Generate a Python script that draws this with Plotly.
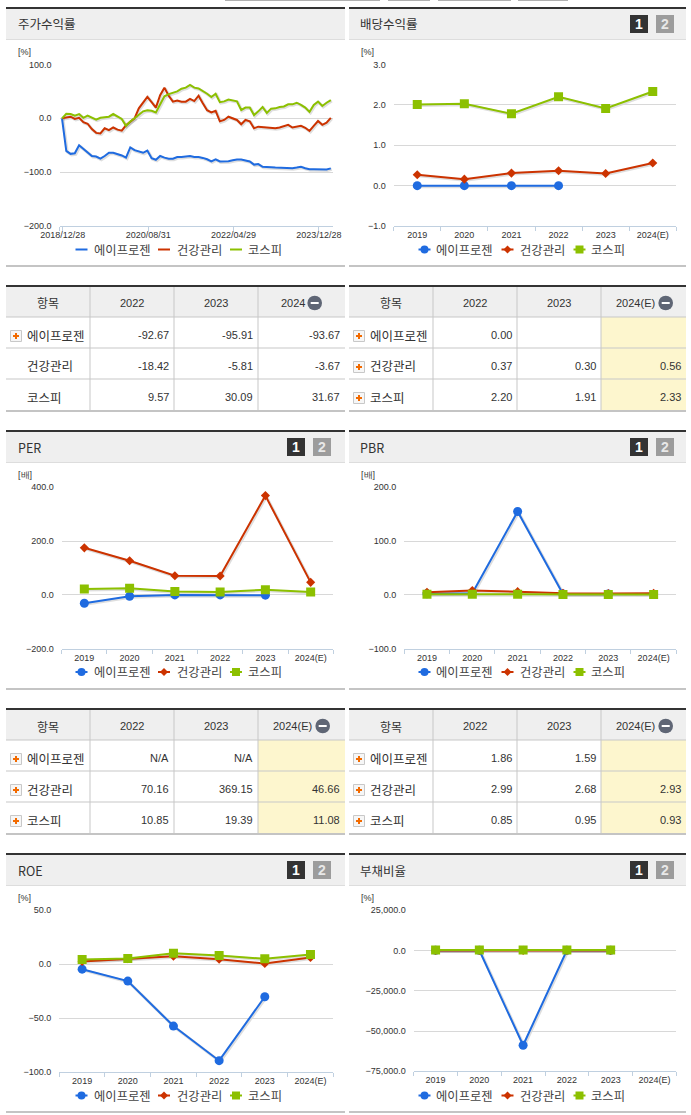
import plotly.graph_objects as go

W = 691
H = 1115

NAMES = ["에이프로젠", "건강관리", "코스피"]
YEARS = ["2019", "2020", "2021", "2022", "2023", "2024(E)"]

# price return, monthly points
ret_blue = [0, -60.5, -66, -65, -50, -57, -64, -70, -71, -75, -70, -64, -64, -66, -69, -73,
            -54, -59, -61, -64, -60, -74, -77, -70, -73, -75, -75, -72, -72, -71, -70, -72,
            -72, -73.5, -76, -80, -76, -80, -80, -79.6, -78, -76.5, -76.5, -78, -80, -86,
            -85, -90, -91, -91, -91.5, -92, -92.5, -92.6, -92.6, -91.5, -90, -92.6, -94.5,
            -94.5, -94.5, -94.5, -95, -93]
ret_red = [0, 1, 3, -1, 1, -7, -10, -20, -27, -28, -18.5, -22, -17, -21, -23, -13,
           -7, 0, 18.5, 29, 40, 30, 20, 43, 57, 42, 31, 33, 31, 31, 36, 32,
           42, 28, 15, 11, 14, -5.5, -3, 3, 0, -3, -11, -3, -5.5, -18.5,
           -15.5, -16, -17.5, -18, -18.5, -17, -14, -12, -17, -16, -14, -17.5, -23.5,
           -14, -5, -12, -8, 1]
ret_green = [0, 8.6, 8, 5, 8, 1, 5, 0.6, -2.5, 1, 2.5, 3, 8, 4, -1, -14,
             -6, 0, 6, 13, 15, 14, 11, 26.5, 41, 45, 47.5, 50, 55, 57, 62, 57,
             55.5, 51, 45.7, 39.5, 45.7, 30, 31.5, 35, 33, 31.5, 15.5, 20, 20, 6,
             13, 21, 10, 18, 18.5, 21, 22, 26, 26, 29, 25, 20, 12, 25, 31, 23, 29, 34]
ret_ticks = ["2018/12/28", "2020/08/31", "2022/04/29", "2023/12/28"]

div_blue = [0, 0, 0, 0, None, None]
div_red = [0.27, 0.16, 0.31, 0.37, 0.30, 0.56]
div_green = [2.01, 2.03, 1.78, 2.20, 1.91, 2.33]

per_blue = [-31, -5, 0, 0, -1, None]
per_red = [175, 127, 71, 70.16, 369.15, 46.66]
per_green = [22, 25, 13, 10.85, 19.39, 11.08]

pbr_blue = [2, 3, 155, 1.86, 1.59, None]
pbr_red = [5, 8, 6, 2.99, 2.68, 2.93]
pbr_green = [1.0, 1.1, 1.2, 0.85, 0.95, 0.93]

roe_blue = [-4.6, -15.7, -57.4, -89.5, -30.2, None]
roe_red = [2.5, 5, 7.4, 4.6, 0.6, 6.2]
roe_green = [4.3, 5.2, 10.2, 8, 5, 9]

debt_blue = [150, 150, -58800, 150, 150, None]
debt_red = [100, 100, 100, 100, 100, None]
debt_green = [400, 400, 400, 400, 400, None]

# table text
tbl_ret = [["-92.67", "-95.91", "-93.67"], ["-18.42", "-5.81", "-3.67"], ["9.57", "30.09", "31.67"]]
tbl_div = [["0.00", "", ""], ["0.37", "0.30", "0.56"], ["2.20", "1.91", "2.33"]]
tbl_per = [["N/A", "N/A", ""], ["70.16", "369.15", "46.66"], ["10.85", "19.39", "11.08"]]
tbl_pbr = [["1.86", "1.59", ""], ["2.99", "2.68", "2.93"], ["0.85", "0.95", "0.93"]]

BLUE = "#1f6be0"
RED = "#cc3300"
GREEN = "#8cc000"
COLORS = [BLUE, RED, GREEN]
KR = "Noto Sans CJK KR"
LAT = "Liberation Sans"
TXT = "#333333"
LINE = "#c8c8c8"

shapes = []
annots = []


def px(x):
    return x / W


def py(y):
    return 1 - y / H


def rect(x0, y0, x1, y1, fill, line=None):
    shapes.append(dict(type="rect", xref="paper", yref="paper", layer="below",
                       x0=px(x0), x1=px(x1), y0=py(y0), y1=py(y1), fillcolor=fill,
                       line=dict(color=line or fill, width=1 if line else 0)))


def text(x, y, s, size=12, font=KR, color=TXT, anchor="left"):
    annots.append(dict(xref="paper", yref="paper", x=px(x), y=py(y), text=s, showarrow=False,
                       xanchor=anchor, yanchor="middle", borderpad=0,
                       font=dict(family=font, size=size, color=color)))


def panel(x0, x1, y, title, buttons=True, btn_x=None):
    # dark top rule, gray title strip, bottom rule of the chart box
    rect(x0, y - 1, x1, y + 1, "#333333")
    rect(x0, y + 1, x1, y + 31, "#efefef")
    rect(x0, y + 31, x1, y + 32, "#dddddd")
    rect(x0, y + 257, x1, y + 259, "#c4c4c4")
    text(x0 + 10.5, y + 16, title, size=12.5)
    if buttons:
        rect(btn_x, y + 7, btn_x + 18, y + 25, "#333333")
        rect(btn_x + 26, y + 7, btn_x + 44, y + 25, "#9c9c9c")
        text(btn_x + 9, y + 16, "<b>1</b>", size=14, font=LAT, color="#ffffff", anchor="center")
        text(btn_x + 35, y + 16, "<b>2</b>", size=14, font=LAT, color="#e8e8e8", anchor="center")


def plus_icon(x, y):
    rect(x, y - 5.5, x + 11, y + 5.5, "#f6f6f6", "#c8c8c8")
    rect(x + 2.5, y - 1, x + 8.5, y + 1, "#f26a00")
    rect(x + 4.5, y - 3, x + 6.5, y + 3, "#f26a00")


def table(x0, x1, y, last_head, rows, icons, shade, head_x, minus_x):
    cols = [x0, x0 + 84, x0 + 168, x0 + 252, x1]
    row_y = [y + 32, y + 63, y + 94, y + 125]
    rect(x0, y, x1, y + 2, "#333333")
    rect(x0, y + 2, x1, row_y[0], "#efefef")
    if shade:
        rect(cols[3], row_y[0], x1, row_y[3], "#fdf6ce")
    for ry in row_y[:3]:
        rect(x0, ry - 0.5, x1, ry + 0.5, LINE)
    rect(x0, row_y[3], x1, row_y[3] + 2, "#c4c4c4")
    for cx in cols[1:4]:
        rect(cx - 0.5, y + 2, cx + 0.5, row_y[3], LINE)
    text((cols[0] + cols[1]) / 2, y + 18, "항목", size=12, anchor="center")
    text((cols[1] + cols[2]) / 2, y + 18, "2022", size=11, font=LAT, anchor="center")
    text((cols[2] + cols[3]) / 2, y + 18, "2023", size=11, font=LAT, anchor="center")
    text(head_x, y + 18, last_head, size=11, font=LAT, anchor="center")
    # minus circle in the last header cell
    shapes.append(dict(type="circle", xref="paper", yref="paper", x0=px(minus_x - 7.3), x1=px(minus_x + 7.3),
                       y0=py(y + 18 + 7.3), y1=py(y + 18 - 7.3), fillcolor="#5f6675", line=dict(width=0)))
    shapes.append(dict(type="rect", xref="paper", yref="paper", x0=px(minus_x - 4), x1=px(minus_x + 4),
                       y0=py(y + 19), y1=py(y + 17), fillcolor="#ffffff", line=dict(width=0)))
    for i, name in enumerate(NAMES):
        cy = y + 50 + 31 * i
        if icons[i]:
            plus_icon(x0 + 4.5, cy + 1)
        text(x0 + 20, cy, name, size=12.5)
        for j in range(3):
            if rows[i][j]:
                text(cols[j + 2] - 4, cy, rows[i][j], size=11, font=LAT, anchor="right")


def legend(y, x_spots, with_marks=True):
    for i, name in enumerate(NAMES):
        sx0, sx1, tx = x_spots[i]
        rect(sx0, y - 1, sx1, y + 1, COLORS[i])
        mid = (sx0 + sx1) / 2
        if with_marks:
            if i == 0:
                shapes.append(dict(type="circle", xref="paper", yref="paper", x0=px(mid - 4), x1=px(mid + 4),
                                   y0=py(y + 4), y1=py(y - 4), fillcolor=BLUE, line=dict(width=0)))
            elif i == 1:
                path = "M %.5f %.5f L %.5f %.5f L %.5f %.5f L %.5f %.5f Z" % (
                    px(mid - 4), py(y), px(mid), py(y - 4), px(mid + 4), py(y), px(mid), py(y + 4))
                shapes.append(dict(type="path", xref="paper", yref="paper", path=path, fillcolor=RED, line=dict(width=0)))
            else:
                rect(mid - 4, y - 4, mid + 4, y + 4, GREEN)
        text(tx, y, name, size=12.3, color="#444444")


fig = go.Figure()
layout = {}
axis_n = 0


def chart(series, x0, x1, ytop, ybot, yrange, ydtick, xvals=None, xticks=None, ticktext=None, marks=True, unit="[%]", unit_x=17):
    global axis_n
    xrange = [-0.5, 5.5] if xticks is None else [(x0 - 62) / 4.267, (x1 - 62) / 4.267]
    x = xvals if xvals is not None else YEARS
    for shadow in (True, False):
        axis_n += 1
        xa = f"xaxis{axis_n}"
        ya = f"yaxis{axis_n}"
        dx = 1 if shadow else 0
        layout[xa] = dict(domain=[px(x0 + dx), px(x1 + dx)], range=xrange, anchor=f"y{axis_n}", showgrid=False,
                          zeroline=False, automargin=False)
        layout[ya] = dict(domain=[py(ybot + dx), py(ytop + dx)], range=yrange, anchor=f"x{axis_n}", zeroline=False,
                          automargin=False)
        if shadow:
            layout[xa].update(visible=False, type="category" if xticks is None else "linear")
            layout[ya].update(visible=False)
        else:
            layout[xa].update(showline=True, linecolor="#c0d0e0", linewidth=1, ticks="outside", ticklen=4,
                              tickcolor="#c0d0e0", tickfont=dict(family=LAT, size=9, color=TXT))
            if xticks is None:
                layout[xa].update(type="category", tickson="boundaries")
            else:
                # labels of the dated axis sit 4px lower than the category ones otherwise
                layout[xa].update(type="linear", tickmode="array", tickvals=xticks, ticktext=ticktext, ticklabelstandoff=-4)
            layout[ya].update(showgrid=True, gridcolor="#d8d8d8", gridwidth=1, dtick=ydtick, tick0=yrange[0],
                              tickformat=",.1f", tickfont=dict(family=LAT, size=9, color=TXT),
                              ticks="", showline=False, ticklabelstandoff=7)
        for i, vals in enumerate(series):
            mode = "lines+markers" if marks else "lines"
            if shadow:
                line = dict(color="rgba(0,0,0,0.13)", width=3)
                marker = dict(size=8, color="rgba(0,0,0,0.0)")
            else:
                line = dict(color=COLORS[i], width=2)
                marker = dict(size=[9, 7, 9][i], color=COLORS[i], symbol=["circle", "diamond", "square"][i])
            fig.add_trace(go.Scatter(x=x, y=vals, mode=mode, name=NAMES[i], line=line, marker=marker,
                                     xaxis=f"x{axis_n}", yaxis=f"y{axis_n}", showlegend=False, hoverinfo="skip"))
    text(unit_x, ytop - 12.5, unit, size=9, font=LAT, anchor="left")


LEFT = [(75.5, 87.5, 92.5), (158, 170, 176), (230, 242, 246.5)]
RIGHT = [(418.5, 430.5, 435), (501.5, 513.5, 518.5), (573.5, 585.5, 589.5)]

# bottoms of the tabs cut off at the top edge of the page
for tab_x0, tab_x1 in [(225, 380), (388, 430), (438, 511), (518, 568)]:
    rect(tab_x0, 0, tab_x1, 1, "#b0b0b0")

# row 1
panel(6, 345, 8, "주가수익률", buttons=False)
panel(349, 686, 8, "배당수익률", btn_x=630)
chart([ret_blue, ret_red, ret_green], 59.5, 333, 64.5, 226, [-200, 100], 100,
      xvals=list(range(64)), xticks=[(59.5 - 62) / 4.267, 0.2, 20.2, 40.2, 60.2], ticktext=[""] + ret_ticks, marks=False)
chart([div_blue, div_red, div_green], 393.7, 676.3, 64.5, 226, [-1, 3], 1, unit_x=360)
legend(249.5, LEFT, with_marks=False)
legend(249.5, RIGHT)
table(6, 345, 285, "2024", tbl_ret, [True, False, False], False, 293, 314.7)
table(349, 686, 285, "2024(E)", tbl_div, [True, True, True], True, 635, 665.7)

# row 2
panel(6, 345, 431, "PER", btn_x=287)
panel(349, 686, 431, "PBR", btn_x=630)
chart([per_blue, per_red, per_green], 61.7, 333.3, 487.3, 648.7, [-200, 400], 200, unit="[배]")
chart([pbr_blue, pbr_red, pbr_green], 404.3, 676.3, 487.3, 648.7, [-100, 200], 100, unit="[배]", unit_x=360)
legend(672, LEFT)
legend(672, RIGHT)
table(6, 345, 708, "2024(E)", tbl_per, [True, True, True], True, 292, 322.7)
table(349, 686, 708, "2024(E)", tbl_pbr, [True, True, True], True, 635, 665.7)

# row 3
panel(6, 345, 854, "ROE", btn_x=287)
panel(349, 686, 854, "부채비율", btn_x=630)
chart([roe_blue, roe_red, roe_green], 59.3, 333.3, 910.3, 1072, [-100, 50], 50)
chart([debt_blue, debt_red, debt_green], 413.7, 676.3, 910.3, 1071.3, [-75000, 25000], 25000, unit_x=360)
legend(1095.5, LEFT)
legend(1095.5, RIGHT)

fig.update_layout(template="none", width=W, height=H, margin=dict(l=0, r=0, t=0, b=0), paper_bgcolor="#ffffff",
                  plot_bgcolor="rgba(0,0,0,0)", shapes=shapes, annotations=annots, **layout)

fig.write_html("out.html", config={"displayModeBar": False},
               post_script="document.body.style.margin='0';document.body.style.overflow='hidden';")
